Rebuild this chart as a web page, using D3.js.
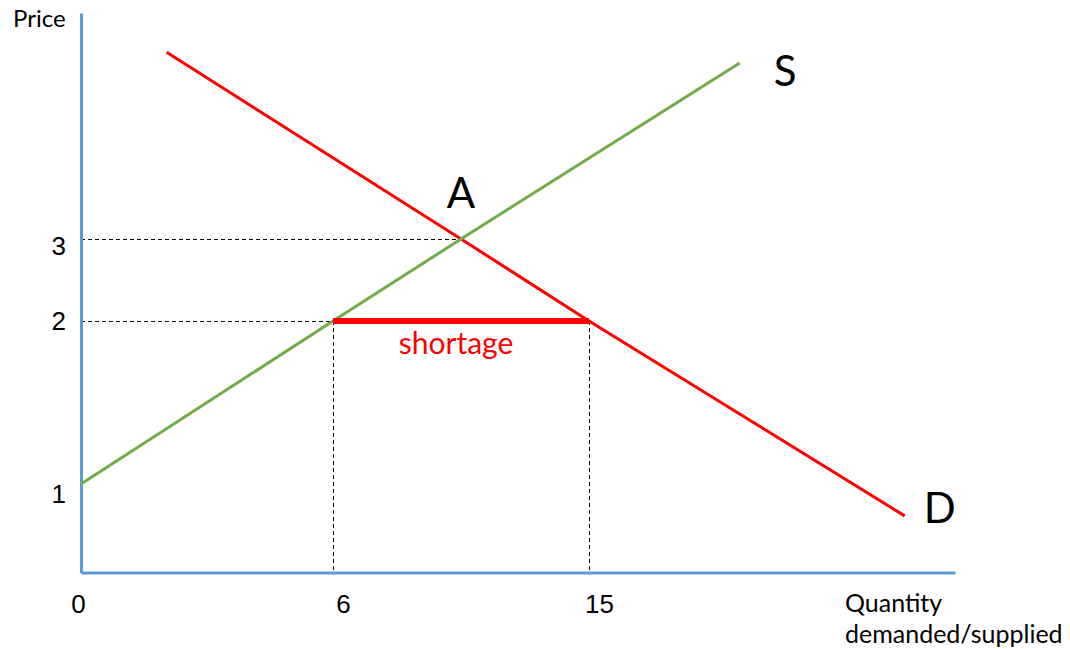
<!DOCTYPE html>
<html>
<head>
<meta charset="utf-8">
<script src="https://cdn.jsdelivr.net/npm/d3@7"></script>
<style>
  body { margin: 0; background: #fff; }
  svg { display: block; font-family: Lato, "Open Sans", sans-serif; }
</style>
</head>
<body>
<div id="chart"></div>
<script>
// schematic diagram: tick spacing is uneven in the original, so scales are piecewise
const qTicks = [0, 6, 15];
const pTicks = [1, 2, 3];
const supply = [{ q: 0, p: 1 }, { q: 6, p: 2 }, { q: 10.5, p: 3 }, { q: 20.3, p: 5.15 }];
const demand = [{ q: 2.04, p: 5.28 }, { q: 10.5, p: 3 }, { q: 15, p: 2 }, { q: 26.1, p: 0.64 }];
const equilibrium = { q: 10.5, p: 3, label: "A" };
const shortage = { p: 2, qs: 6, qd: 15, label: "shortage" };

const width = 1070, height = 649;
const blue = "#5B9BD5", red = "#FF0000", green = "#70AD47";

const svg = d3.select("#chart").append("svg")
    .attr("width", width)
    .attr("height", height);

const x = d3.scaleLinear().domain([0, 6, 15, 27.87]).range([81, 333, 589, 955]);
const y = d3.scaleLinear().domain([0, 1, 2, 3, 5.76]).range([572.5, 484, 321, 239, 13]);

// dashed guides
const guide = (x1, y1, x2, y2) => svg.append("line")
    .attr("x1", x1).attr("y1", y1).attr("x2", x2).attr("y2", y2)
    .attr("stroke", "#000").attr("stroke-width", 1)
    .attr("shape-rendering", "crispEdges")
    .attr("stroke-dasharray", "4,3");

guide(x(0), y(equilibrium.p), x(equilibrium.q), y(equilibrium.p));
guide(x(0), y(shortage.p), x(shortage.qs), y(shortage.p));
guide(x(shortage.qs), y(shortage.p), x(shortage.qs), y(0));
guide(x(shortage.qd), y(shortage.p), x(shortage.qd), y(0));

// axes
const yNudge = { 1: 10, 2: 0, 3: 7 };
const yAxis = svg.append("g")
    .attr("transform", `translate(${x(0)},0)`)
    .call(d3.axisLeft(y).tickValues(pTicks).tickSize(0).tickPadding(15).tickFormat(d3.format("d")));

const xNudge = { 0: -3, 6: 10, 15: 10 };
const xAxis = svg.append("g")
    .attr("transform", `translate(0,${y(0)})`)
    .call(d3.axisBottom(x).tickValues(qTicks).tickSize(0).tickFormat(d3.format("d")));

[yAxis, xAxis].forEach(g => {
    g.select(".domain").attr("stroke", blue).attr("stroke-width", 3);
    g.selectAll("text").attr("fill", "#000").style("font-size", "26px").attr("font-family", null);
});
yAxis.selectAll("text").attr("transform", d => `translate(0,${yNudge[d]})`);
xAxis.selectAll("text").attr("y", 40).attr("dy", null)
    .attr("transform", d => `translate(${xNudge[d]},0)`);

// curves
const line = d3.line().x(d => x(d.q)).y(d => y(d.p));

svg.append("path").datum(demand)
    .attr("fill", "none").attr("stroke", red).attr("stroke-width", 3)
    .attr("d", line);

svg.append("path").datum(supply)
    .attr("fill", "none").attr("stroke", green).attr("stroke-width", 3)
    .attr("d", line);

// shortage bar
svg.append("line")
    .attr("x1", x(shortage.qs)).attr("x2", x(shortage.qd))
    .attr("y1", y(shortage.p)).attr("y2", y(shortage.p))
    .attr("stroke", red).attr("stroke-width", 6);

svg.append("text")
    .attr("x", (x(shortage.qs) + x(shortage.qd)) / 2 - 5)
    .attr("y", y(shortage.p) + 33)
    .attr("text-anchor", "middle")
    .attr("fill", red)
    .style("font-size", "30px")
    .text(shortage.label);

// labels
svg.append("text")
    .attr("x", x(equilibrium.q)).attr("y", y(equilibrium.p) - 31)
    .attr("text-anchor", "middle").style("font-size", "42px")
    .text(equilibrium.label);

const sEnd = supply[supply.length - 1];
svg.append("text")
    .attr("x", x(sEnd.q) + 34).attr("y", y(sEnd.p) + 23)
    .style("font-size", "42px").text("S");

const dEnd = demand[demand.length - 1];
svg.append("text")
    .attr("x", x(dEnd.q) + 19).attr("y", y(dEnd.p) + 7)
    .style("font-size", "42px").text("D");

svg.append("text")
    .attr("x", 13).attr("y", 27)
    .style("font-size", "24px").text("Price");

const qLabel = svg.append("text")
    .attr("x", 845).attr("y", 612)
    .style("font-size", "25px");
qLabel.append("tspan").attr("x", 845).text("Quantity");
qLabel.append("tspan").attr("x", 845).attr("dy", 31).text("demanded/supplied");
</script>
</body>
</html>
